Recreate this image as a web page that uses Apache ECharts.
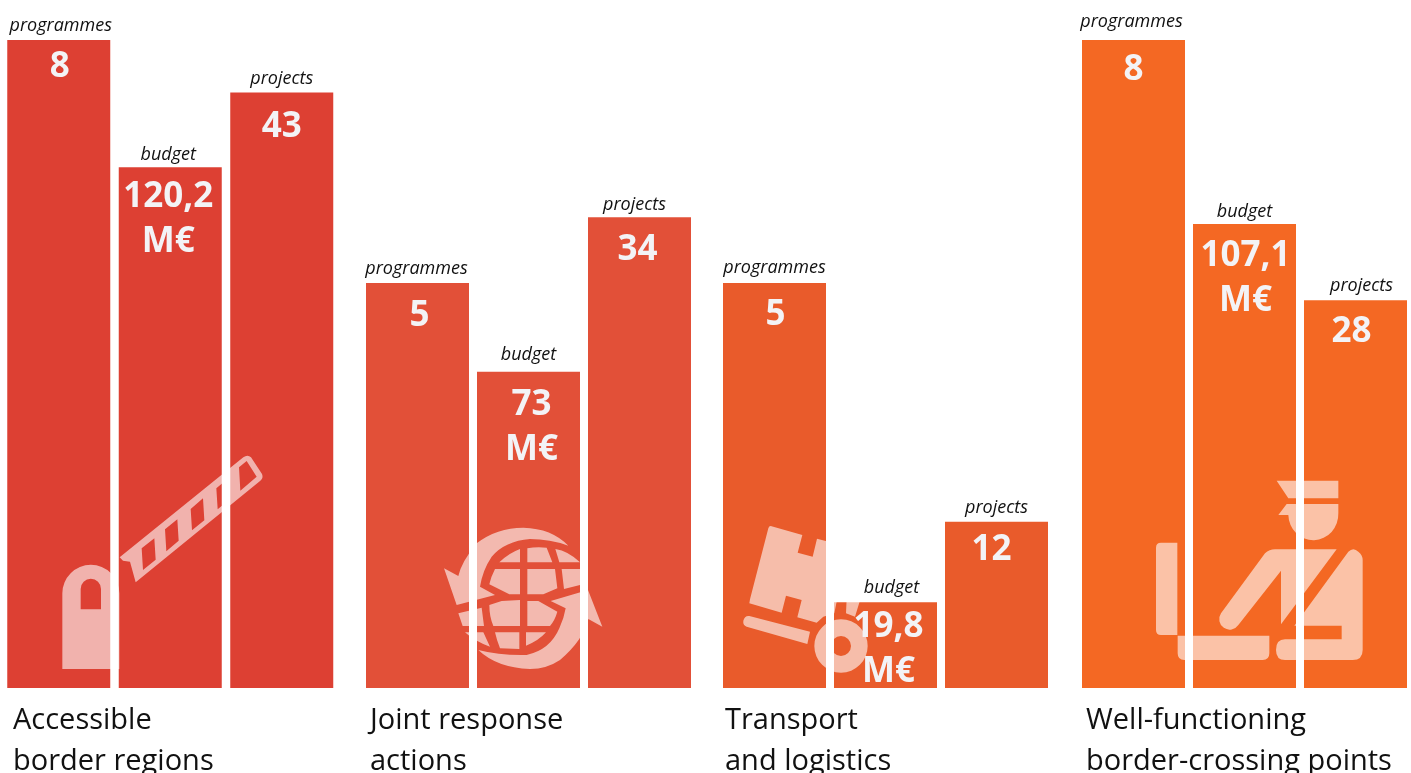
<!DOCTYPE html>
<html>
<head>
<meta charset="utf-8">
<style>html,body{margin:0;padding:0;background:#fff;overflow:hidden}#chart{width:1411px;height:773px}</style>
<script src="https://cdn.jsdelivr.net/npm/echarts@6/dist/echarts.min.js"></script>
</head>
<body>
<div id="chart"></div>
<script>
// Figures per policy area
const groupTitles = ['Accessible\nborder regions', 'Joint response\nactions', 'Transport\nand logistics', 'Well-functioning\nborder-crossing points'];
const metrics = ['programmes', 'budget', 'projects'];
const programmes = [8, 5, 5, 8];
const budget = [120.2, 73, 19.8, 107.1];
const projects = [43, 34, 12, 28];

// Each metric has its own hidden scale, all sharing the same baseline
const metricValues = [programmes, budget, projects];
const metricMax = [8.494, 158.8, 49.68];

// Layout and styling
const FONT = '"Open Sans", "Noto Sans", sans-serif';
const groupColors = ['#dd4033', '#e25038', '#e95b2b', '#f46823'];
const groupLeft = [3, 362, 719, 1078];
const groupWidth = [334.5, 333, 333, 333];
const titleLeft = [13, 370, 725, 1086];
const PLOT_HEIGHT = 688;
const nameLift = [[14, 12, 14], [14, 17, 12], [15, 14, 14], [18, 12, 14]];
const nameShift = [[2, -2, 0], [-1, 0, -5], [0, 6, 0], [-2, 0, 6]];
const valueDrop = [[27, 30, 35], [33, 33, 33], [32, 25, 28], [30, 32, 32]];
const valueShift = [[1, -2, 0], [2, 3, -2], [1, 3, -5], [0, 1, -4]];
const ICON_FILL = 'rgba(255,255,255,0.6)';

const fmt = (m, v) => m === 1 ? String(v).replace('.', ',') + '\nM€' : String(v);

const grids = [], xAxes = [], yAxes = [], series = [], titles = [];
groupTitles.forEach((t, g) => {
  grids.push({ left: groupLeft[g], top: 0, width: groupWidth[g], height: PLOT_HEIGHT });
  xAxes.push({ type: 'category', gridIndex: g, data: metrics, show: false });
  titles.push({
    text: t, left: titleLeft[g], top: 700, padding: 0,
    textStyle: { fontFamily: FONT, fontSize: 29, fontWeight: 'normal', color: '#111', lineHeight: 41 }
  });
  metrics.forEach((name, m) => {
    const yIndex = yAxes.length;
    yAxes.push({ type: 'value', gridIndex: g, min: 0, max: metricMax[m], show: false });
    const v = metricValues[m][g];
    const data = metrics.map((_, i) => i === m ? v : null);
    // The coloured bar, with the metric name above it
    series.push({
      type: 'bar', name, xAxisIndex: g, yAxisIndex: yIndex, data,
      barWidth: 103, barGap: '-100%', z: 2, silent: true,
      itemStyle: { color: groupColors[g] },
      label: {
        show: true, position: 'top', distance: nameLift[g][m] - 11, offset: [nameShift[g][m], 0],
        formatter: name,
        fontFamily: FONT, fontSize: 18, fontStyle: 'italic', color: '#111', lineHeight: 22
      }
    });
    // An unfilled twin carries the value so that it sits above the pictograms
    series.push({
      type: 'bar', name: name + ' value', xAxisIndex: g, yAxisIndex: yIndex, data,
      barWidth: 103, barGap: '-100%', z: 5, silent: true,
      itemStyle: { color: 'transparent' },
      label: {
        show: true, position: 'insideTop', distance: 0, offset: [valueShift[g][m], valueDrop[g][m] - 22.5],
        formatter: p => fmt(m, p.value),
        fontFamily: FONT, fontSize: 35, fontWeight: 'bold', color: '#f3f3f6', lineHeight: 45
      }
    });
  });
});

// Pictograms, drawn on a 3x grid anchored at each icon's corner
const iconPaths = {
  gatePost:
    'M187 687V460A85.5 85.5 0 0 1 358 460V687Z' +
    'M242 508H303V447A30.5 30.5 0 0 0 242 447Z',
  gateArm:
    'M14 322L385 22Q398 12 408 22L441 72Q446 84 436 92L62 397L45 335L24 332Z' +
    'M80 295L84 360L122 329L118 265Z' +
    'M150 238L154 304L191 272L187 208Z' +
    'M227 177L231 241L268 211L264 145Z' +
    'M304 115L308 178L345 148L341 84Z' +
    'M372 52L376 122L425 80L395 33Z',
  globe:
    'M12 130L55 153Q65 110 110 55Q170 8 250 8Q335 10 385 62Q330 42 270 42Q195 48 155 95Q128 135 120 185L165 210L50 240Z' +
    'M115 375Q180 392 260 390Q330 375 358 310Q372 280 377 250L332 228L444 195L487 305L445 282Q430 345 360 405Q320 432 270 432Q170 428 115 375Z' +
    'M240 72V112H178Q205 85 240 72Z' +
    'M262 70Q290 64 320 68L337 112H262Z' +
    'M346 72Q385 78 420 112H358Z' +
    'M240 132V208H208L148 178Q153 155 165 132Z' +
    'M262 132H345L352 190L310 208H262Z' +
    'M365 132H420V180L372 192Z' +
    'M148 240L185 228L240 225V303H160Q148 275 148 240Z' +
    'M262 228H295L352 260Q345 285 330 303H262Z' +
    'M165 322H238V372L180 370Q170 345 165 322Z' +
    'M258 322H318Q295 348 258 362Z' +
    'M55 265L125 248L132 303H68Z' +
    'M75 322H130L150 365Q105 350 75 322Z',
  trolley:
    'M152 78L247 105L233 158L278 170L291 116L430 152L422 295L405 350L378 340L380 295H352L343 340L310 350L290 368L232 352L245 300L198 287L185 338L88 310L90 298L145 85Q147 78 152 78Z' +
    'M88 348L270 395L262 432L80 380Q68 375 70 362Q74 346 88 348Z' +
    'M283 438A80 80 0 1 1 443 438A80 80 0 1 1 283 438ZM333 438A30 30 0 1 0 393 438A30 30 0 1 0 333 438Z',
  officer:
    'M63 218H112V495H63Q48 495 48 480V233Q48 218 63 218Z' +
    'M113 497H388V550Q388 570 368 570H133Q113 570 113 550Z' +
    'M410 32H595V85H445Z' +
    'M415 135L440 102H595V130A75 78 0 0 1 445 135Z' +
    'M405 238H590L423 463V302L295 465A30 30 0 0 1 243 430L375 250Q388 238 405 238Z' +
    'M625 245Q640 230 655 245Q668 255 668 270V540Q668 570 638 570H435Q408 570 408 540Q408 508 435 508H605V467H463Z'
};
Object.keys(iconPaths).forEach(k => {
  echarts.graphic.registerShape(k, echarts.graphic.extendPath(iconPaths[k]));
});
const icon = (type, x, y) => ({
  type, x, y, scaleX: 1 / 3, scaleY: 1 / 3, z: 3, silent: true,
  style: { fill: ICON_FILL }
});

const chart = echarts.init(document.getElementById('chart'));
chart.setOption({
  animation: false,
  backgroundColor: '#fff',
  title: titles,
  grid: grids,
  xAxis: xAxes,
  yAxis: yAxes,
  series,
  graphic: { elements: [
    icon('gatePost', 0, 440),
    icon('gateArm', 115, 450),
    icon('globe', 440, 525),
    icon('trolley', 720, 500),
    icon('officer', 1140, 470)
  ] }
});
</script>
</body>
</html>
